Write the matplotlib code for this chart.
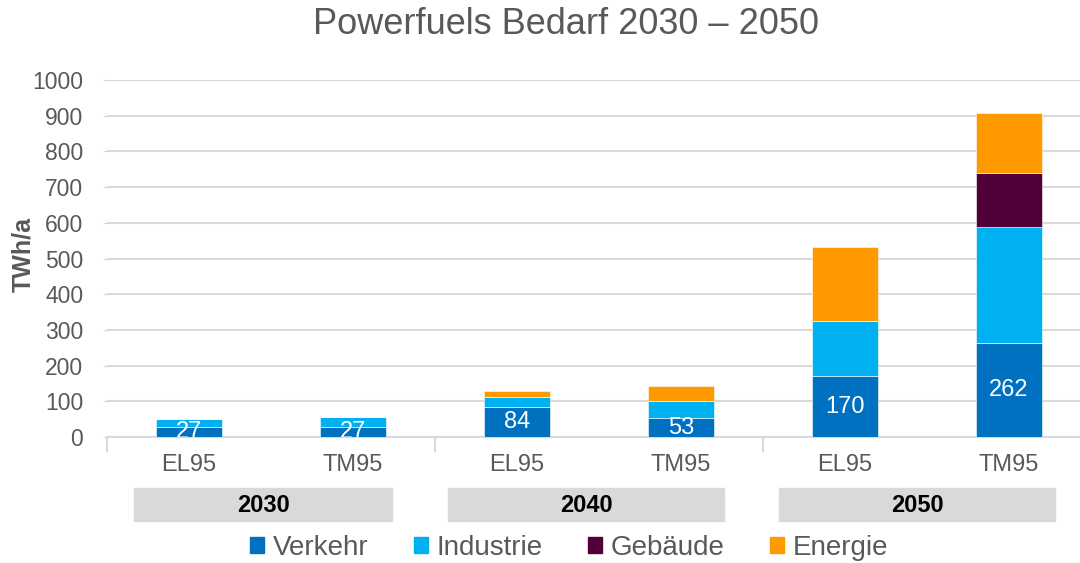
import matplotlib.pyplot as plt
import matplotlib.transforms as mtransforms
from matplotlib.patches import Rectangle, Patch
import numpy as np

scenarios = ["EL95", "TM95", "EL95", "TM95", "EL95", "TM95"]
years = ["2030", "2040", "2050"]
verkehr = [27, 27, 84, 53, 170, 262]
industrie = [23, 29, 29, 49, 155, 326]
gebaeude = [0, 0, 0, 0, 0, 151]
energie = [0, 1, 16, 42, 208, 169]

series = [("Verkehr", verkehr, "#0070C0"),
          ("Industrie", industrie, "#00B0F0"),
          ("Gebäude", gebaeude, "#52003A"),
          ("Energie", energie, "#FF9900")]

grey = "#595959"
plt.rcParams["font.family"] = ["Liberation Sans", "DejaVu Sans"]


def main():
    fig = plt.figure(figsize=(10.8, 5.63), dpi=100)
    ax = fig.add_axes([0.099, 0.2238, 0.901, 0.634])

    x = np.arange(len(scenarios))
    bottom = np.zeros(len(scenarios))
    for name, vals, col in series:
        ax.bar(x, vals, 0.4, bottom=bottom, color=col, label=name,
               edgecolor="white", linewidth=0.4, zorder=3)
        bottom += np.array(vals)

    # data labels for Verkehr
    for xi, v in zip(x, verkehr):
        ax.text(xi, v / 2, str(v), ha="center", va="center", color="white",
                fontsize=17, zorder=4, clip_on=True)

    ax.set_xlim(-0.5, 5.433)
    ax.set_ylim(0, 1000)
    ax.set_yticks(range(0, 1001, 100))
    ax.tick_params(axis="y", length=3, color="#D9D9D9", labelsize=16.5,
                   labelcolor=grey, pad=14)
    ax.set_xticks([])
    ax.grid(axis="y", color="#D9D9D9", linewidth=1.5, zorder=0)
    for s in ["top", "right", "left"]:
        ax.spines[s].set_visible(False)
    ax.spines["bottom"].set_color("#D9D9D9")
    ax.spines["bottom"].set_linewidth(1.5)

    fig.text(23 / 1080, 1 - 254 / 563, "TWh/a", rotation=90, ha="center", va="center",
             fontsize=18, fontweight="bold", color=grey)
    fig.text(566 / 1080, 1 - 24 / 563, "Powerfuels Bedarf 2030 – 2050",
             ha="center", va="center", fontsize=26, color=grey)

    trans = mtransforms.blended_transform_factory(ax.transData, fig.transFigure)
    # scenario labels
    for xi, s in zip(x, scenarios):
        ax.text(xi, 1 - 465 / 563, s, transform=trans, ha="center", va="center",
                fontsize=17, color=grey)
    # group separators
    for sx in [-0.5, 1.5, 3.5]:
        ax.plot([sx, sx], [1 - 437 / 563, 1 - 451 / 563], transform=trans,
                color="#D9D9D9", linewidth=1.5, clip_on=False)
    # year boxes
    boxes = [(134, 392), (448, 724), (779, 1055)]
    for (l, r), yr in zip(boxes, years):
        fig.patches.append(Rectangle((l / 1080, 1 - 521 / 563), (r - l) / 1080, 33 / 563,
                                     transform=fig.transFigure, color="#D9D9D9",
                                     zorder=0))
        fig.text((l + r) / 2 / 1080, 1 - 505 / 563, yr, ha="center", va="center",
                 fontsize=17, fontweight="bold", color="black")

    handles = [Patch(color=c) for _, _, c in series]
    fig.legend(handles, [n for n, _, _ in series], loc="center",
               bbox_to_anchor=(569 / 1080, 1 - 548 / 563), ncol=4, frameon=False,
               fontsize=20, handlelength=0.5, handleheight=0.5, handletextpad=0.3,
               columnspacing=1.65, labelcolor=grey, borderpad=0)

    fig.savefig("out.png", dpi=100)


if __name__ == "__main__":
    main()
